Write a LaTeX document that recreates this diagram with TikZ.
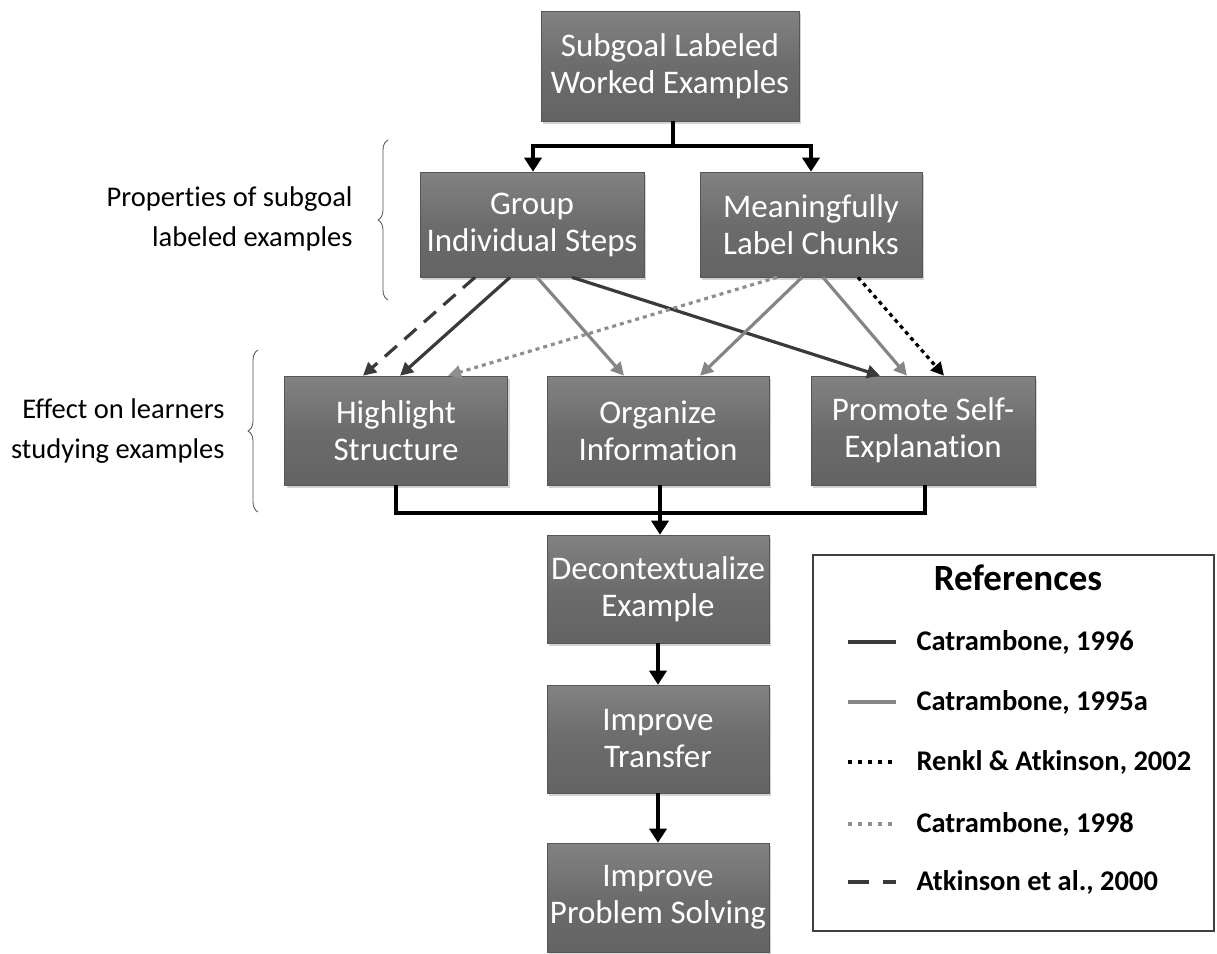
\documentclass[tikz,border=0pt]{standalone}
\usepackage{fontspec}
\setmainfont{Carlito}[Ligatures=NoCommon]
\usetikzlibrary{arrows.meta,shadows,decorations.pathreplacing}
\definecolor{boxgray}{HTML}{6C6C6C}
\definecolor{darkline}{HTML}{3A3A3A}
\definecolor{midline}{HTML}{858585}
\definecolor{lightdot}{HTML}{8E8E8E}
\tikzset{
  stepbox/.style={top color=boxgray!85!white, bottom color=boxgray!92!black, middle color=boxgray,
    draw=boxgray!80!black, line width=0.6pt, text=white,
    align=center, inner sep=0pt, font=\fontsize{33}{37}\selectfont,
    drop shadow={shadow xshift=2pt, shadow yshift=-3pt, opacity=0.35}},
  flow/.style={line width=3.8pt, draw=black, -{Triangle[length=14pt,width=17pt]}},
  flowline/.style={line width=3.8pt, draw=black},
  ref/.style={line width=3.2pt, -{Triangle[length=13pt,width=13pt]}},
  sidelabel/.style={align=right, anchor=east, font=\fontsize{28.5}{40}\selectfont},
  legtext/.style={anchor=west, font=\bfseries\fontsize{28.5}{30}\selectfont},
  sbrace/.style={decorate, decoration={brace, amplitude=10pt}, line width=0.8pt, draw=black!70}
}
\begin{document}
\begin{tikzpicture}[x=1pt,y=-1pt]
\useasboundingbox (0,0) rectangle (1217,953);

% boxes
\node[stepbox, minimum width=258pt, minimum height=110pt] (top) at (670,66) {Subgoal Labeled\\Worked Examples};
\node[stepbox, minimum width=224pt, minimum height=105pt] (grp) at (532,224.5) {Group\\Individual Steps};
\node[stepbox, minimum width=222pt, minimum height=105pt] (mlc) at (811,224.5) {Meaningfully\\Label Chunks};
\node[stepbox, minimum width=223pt, minimum height=109pt] (hs) at (396,430.5) {Highlight\\Structure};
\node[stepbox, minimum width=222pt, minimum height=109pt] (oi) at (658,430.5) {Organize\\Information};
\node[stepbox, minimum width=224pt, minimum height=109pt] (pse) at (923,430.5) {Promote Self-\\Explanation};
\node[stepbox, minimum width=222pt, minimum height=108pt] (dec) at (658,589) {Decontextualize\\Example};
\node[stepbox, minimum width=222pt, minimum height=108pt] (tr) at (658,739) {Improve\\Transfer};
\node[stepbox, minimum width=222pt, minimum height=109pt] (ps) at (658,897.5) {Improve\\Problem Solving};

% top split
\coordinate (split) at (673,146);
\draw[flowline] (top.south -| split) -- (split);
\draw[flow] (split) -| (grp.north -| 533,0);
\draw[flow] (split) -| (mlc.north -| 811,0);

% bottom merge
\coordinate (merge) at (660,513);
\draw[flowline] (hs.south) |- (merge);
\draw[flowline] (pse.south -| 925,0) |- (merge);
\draw[flow] (oi.south -| merge) -- (dec.north -| merge);
\draw[flow] (dec.south) -- (tr.north);
\draw[flow] (tr.south) -- (ps.north);

% reference connectors
\draw[ref, darkline, dash pattern=on 16pt off 10pt] (grp.south -| 475,0) -- (hs.north -| 363,0);
\draw[ref, darkline] (grp.south -| 510,0) -- (hs.north -| 400,0);
\draw[ref, midline] (grp.south -| 537,0) -- (oi.north -| 624,0);
\draw[ref, darkline] (grp.south -| 572,0) -- (pse.north -| 880,0);
\draw[ref, lightdot, dash pattern=on 4pt off 4pt] (mlc.south -| 777,0) -- (hs.north -| 448,0);
\draw[ref, midline] (mlc.south -| 802,0) -- (oi.north -| 700,0);
\draw[ref, midline] (mlc.south -| 823,0) -- (pse.north -| 907,0);
\draw[ref, black, dash pattern=on 4pt off 4pt] (mlc.south -| 858,0) -- (pse.north -| 944,0);

% braces and side labels
\draw[sbrace] (388,300) -- node[coordinate] (b1) {} (388,140);
\draw[sbrace] (258,512) -- node[coordinate] (b2) {} (258,350);
\node[sidelabel] (l1) at (356,219) {Properties of subgoal\\labeled examples};
\node[sidelabel] (l2) at (228,431) {Effect on learners\\studying examples};

% legend
\node[draw=black!75, line width=1.2pt, minimum width=401pt, minimum height=376pt, inner sep=0pt] (leg) at (1013.5,743) {};
\node[font=\bfseries\fontsize{37}{40}\selectfont] (legtitle) at (1018,578) {References};
\coordinate (la) at (848,642); \coordinate (lb) at (896,642);
\draw[line width=4pt, darkline] (la) -- (lb);
\node[legtext] (t1) at (913,642) {Catrambone, 1996};
\coordinate (lc) at (848,702); \coordinate (ld) at (896,702);
\draw[line width=4pt, midline] (lc) -- (ld);
\node[legtext] (t2) at (913,702) {Catrambone, 1995a};
\coordinate (le) at (848,762); \coordinate (lf) at (896,762);
\draw[line width=4pt, black, dash pattern=on 4pt off 6pt] (le) -- (lf);
\node[legtext] (t3) at (913,762) {Renkl \& Atkinson, 2002};
\coordinate (lg) at (848,824); \coordinate (lh) at (896,824);
\draw[line width=4pt, lightdot, dash pattern=on 4pt off 6pt] (lg) -- (lh);
\node[legtext] (t4) at (913,824) {Catrambone, 1998};
\coordinate (li) at (848,882); \coordinate (lj) at (896,882);
\draw[line width=4.5pt, darkline, dash pattern=on 21pt off 14pt] (li) -- (lj);
\node[legtext] (t5) at (913,882) {Atkinson et al., 2000};
\end{tikzpicture}
\end{document}
